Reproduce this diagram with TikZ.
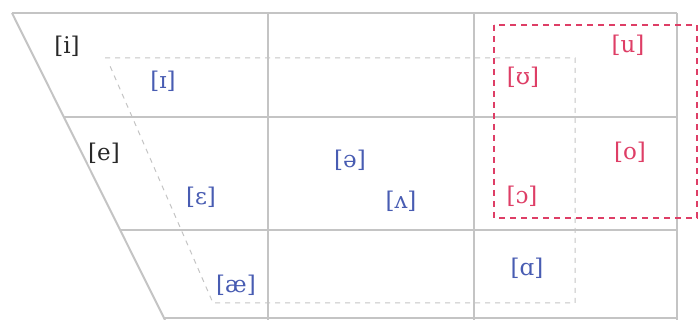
\documentclass[tikz,border=0pt]{standalone}
\usepackage{fontspec}
\setmainfont{DejaVu Serif}
\definecolor{gridgray}{RGB}{196,196,196}
\definecolor{ipablue}{RGB}{72,92,178}
\definecolor{ipared}{RGB}{222,62,102}
\definecolor{ipablack}{RGB}{40,40,40}
\begin{document}
\begin{tikzpicture}[x=1pt,y=-1pt,
  solidline/.style={draw=gridgray,line width=2pt},
  thindash/.style={draw=gridgray,line width=1pt,dash pattern=on 5pt off 5pt},
  reddash/.style={draw=ipared,line width=1.4pt,dash pattern=on 6pt off 5pt},
  lab/.style={font=\fontsize{23}{25}\selectfont,inner sep=0pt},
  blk/.style={lab,text=ipablack},
  blu/.style={lab,text=ipablue},
  rd/.style={lab,text=ipared}]
\useasboundingbox (0,0) rectangle (699,320);
% solid grid
\draw[solidline] (12,13) -- (677,13);
\draw[solidline] (12,13) -- (165,320);
\draw[solidline] (63,117) -- (677,117);
\draw[solidline] (120,230) -- (677,230);
\draw[solidline] (163,318) -- (677,318);
\draw[solidline] (268,13) -- (268,320);
\draw[solidline] (474,13) -- (474,320);
\draw[solidline] (677,13) -- (677,320);
% thin dashed inner
\draw[thindash] (105,58) -- (575,58) -- (575,303) -- (213,303) -- (110,66);
% red dashed box
\draw[reddash] (494,25) rectangle (697,218);
% labels
\node[blk] (i) at (67,46) {[i]};
\node[blu] (I) at (163,81) {[ɪ]};
\node[blk] (e) at (104,153) {[e]};
\node[blu] (eps) at (201,197) {[ɛ]};
\node[blu] (ae) at (236,285) {[æ]};
\node[blu] (schwa) at (350,160) {[ə]};
\node[blu] (wedge) at (401,201) {[ʌ]};
\node[rd] (u) at (628,45) {[u]};
\node[rd] (U) at (523,77) {[ʊ]};
\node[rd] (o) at (630,152) {[o]};
\node[rd] (oo) at (522,196) {[ɔ]};
\node[blu] (a) at (527,268) {[ɑ]};
\end{tikzpicture}
\end{document}
